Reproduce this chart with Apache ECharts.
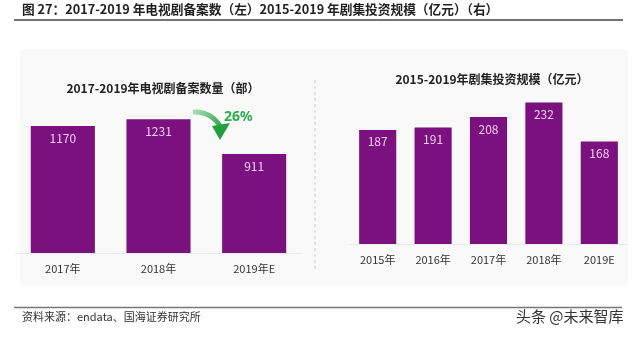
<!DOCTYPE html>
<html><head><meta charset="utf-8">
<script src="https://cdn.jsdelivr.net/npm/echarts@6/dist/echarts.min.js"></script>
<style>html,body{margin:0;padding:0;background:#fff}#c{width:640px;height:338px}</style>
</head><body><div id="c"></div>
<script>
const leftCategories = ['2017年', '2018年', '2019年E'];
const leftValues = [1170, 1231, 911];
const rightCategories = ['2015年', '2016年', '2017年', '2018年', '2019E'];
const rightValues = [187, 191, 208, 232, 168];
const growthLabel = '26%';

const FONT = '"Noto Sans CJK SC", "Noto Sans", sans-serif';
const BAR = '#7b117f';
const chart = echarts.init(document.getElementById('c'), null, {renderer: 'canvas'});

const labelCfg = {show: true, position: 'insideTop', distance: 6, color: '#f4cdf4', fontSize: 12, fontFamily: FONT};
const axisLabelCfg = {color: '#333', fontSize: 11, fontFamily: FONT, margin: 10};

chart.setOption({
  animation: false,
  backgroundColor: '#fff',
  title: [
    {text: '2017-2019年电视剧备案数量（部）', left: 158, top: 77, textAlign: 'center',
     textStyle: {fontSize: 12, fontWeight: 'bold', color: '#222', fontFamily: FONT}},
    {text: '2015-2019年剧集投资规模（亿元）', left: 487, top: 68, textAlign: 'center',
     textStyle: {fontSize: 12, fontWeight: 'bold', color: '#222', fontFamily: FONT}}
  ],
  graphic: [
    {type: 'rect', z: -10, shape: {x: 20, y: 49, width: 608, height: 236}, style: {fill: '#f9f9f9'}},
    {type: 'text', left: 22, top: 3, style: {text: '图 27：2017-2019 年电视剧备案数（左）2015-2019 年剧集投资规模（亿元）（右）',
      font: 'bold 12.7px "Noto Sans CJK SC"', fill: '#222'}},
    {type: 'line', shape: {x1: 14, y1: 20, x2: 623, y2: 20}, style: {stroke: '#444', lineWidth: 1.5}},
    {type: 'line', shape: {x1: 315, y1: 80, x2: 315, y2: 272}, style: {stroke: '#ccc', lineWidth: 1, lineDash: [3, 3]}},
    {type: 'line', shape: {x1: 14, y1: 307.5, x2: 622, y2: 307.5}, style: {stroke: '#777', lineWidth: 1.5}},
    {type: 'text', left: 22, top: 311, style: {text: '资料来源：endata、国海证券研究所', font: '11px "Noto Sans CJK SC"', fill: '#333'}},
    {type: 'text', left: 516, top: 309, style: {text: '头条 @未来智库', font: '15px "Noto Sans CJK SC"', fill: '#333'}},
    {type: 'bezierCurve', shape: {x1: 193, y1: 112, x2: 221, y2: 128, cpx1: 206, cpy1: 111, cpx2: 216, cpy2: 118},
     style: {stroke: new echarts.graphic.LinearGradient(0, 0, 1, 1, [{offset: 0, color: '#b5e4c0'}, {offset: 1, color: '#21a040'}]), lineWidth: 5, fill: null}},
    {type: 'polygon', shape: {points: [[212, 126], [230, 123], [220, 140]]}, style: {fill: '#21a040'}},
    {type: 'text', left: 224, top: 110, style: {text: growthLabel, font: 'bold 14px "Noto Sans"', fill: '#2fae4e'}}
  ],
  grid: [
    {left: 15, right: 338, top: 101, bottom: 85},
    {left: 350, right: 13, top: 61, bottom: 94}
  ],
  xAxis: [
    {type: 'category', gridIndex: 0, data: leftCategories, axisTick: {show: false},
     axisLine: {lineStyle: {color: '#ebebeb'}}, axisLabel: axisLabelCfg},
    {type: 'category', gridIndex: 1, data: rightCategories, axisTick: {show: false},
     axisLine: {lineStyle: {color: '#ebebeb'}}, axisLabel: axisLabelCfg}
  ],
  yAxis: [
    {type: 'value', gridIndex: 0, min: 0, max: 1400, show: false, splitLine: {show: false}},
    {type: 'value', gridIndex: 1, min: 0, max: 300, show: false, splitLine: {show: false}}
  ],
  series: [
    {type: 'bar', xAxisIndex: 0, yAxisIndex: 0, data: leftValues, barCategoryGap: '33%',
     itemStyle: {color: BAR}, label: labelCfg},
    {type: 'bar', xAxisIndex: 1, yAxisIndex: 1, data: rightValues, barCategoryGap: '33%',
     itemStyle: {color: BAR}, label: labelCfg}
  ]
});
</script></body></html>
